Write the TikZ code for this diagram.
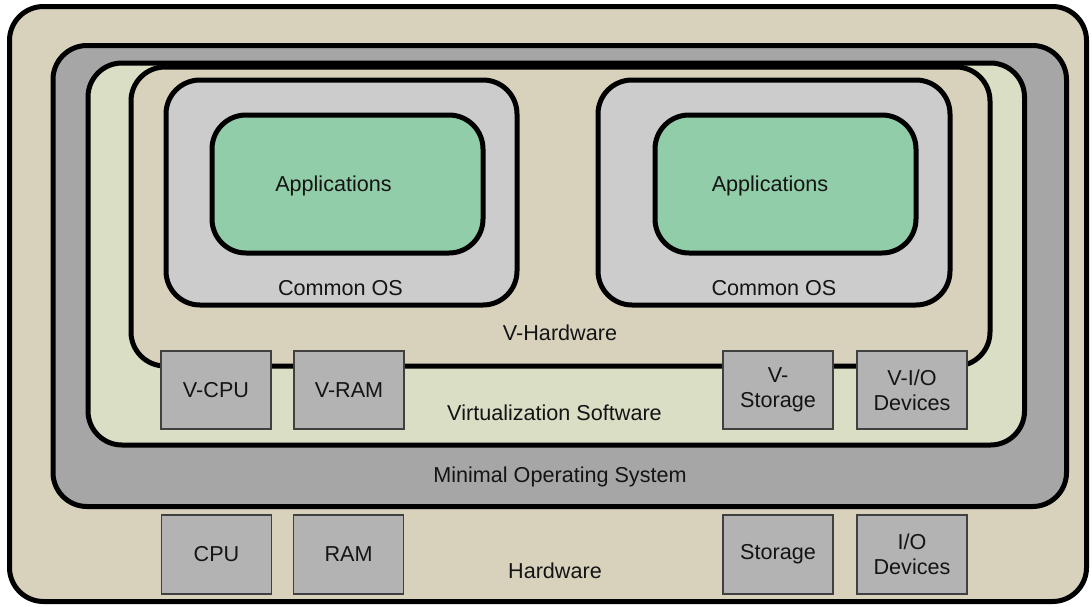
\documentclass[tikz,border=0pt]{standalone}
\usepackage{fontspec}
\setmainfont{Liberation Sans}
\definecolor{tan}{RGB}{216,210,189}
\definecolor{osgray}{RGB}{166,166,166}
\definecolor{virtgreen}{RGB}{217,222,197}
\definecolor{guestgray}{RGB}{204,204,204}
\definecolor{appgreen}{RGB}{146,205,169}
\definecolor{chipgray}{RGB}{179,179,179}
\definecolor{chipline}{RGB}{64,64,64}
\definecolor{ink}{RGB}{20,20,20}
\tikzset{
  layer/.style={draw=black, line width=5pt, rounded corners=34pt, inner sep=0pt, outer sep=0pt},
  chip/.style={draw=chipline, line width=1.3pt, fill=chipgray, minimum width=110pt,
    minimum height=78pt, inner sep=0pt, align=center, text=ink,
    font=\fontsize{21.6}{25}\selectfont},
  lbl/.style={anchor=base, inner sep=0pt, text=ink, font=\fontsize{21.6}{25}\selectfont}
}
\begin{document}
\begin{tikzpicture}[x=1pt, y=-1pt]
  \useasboundingbox (0,0) rectangle (1092,606);
  % nested layers, outermost first
  \node[layer, fill=tan, minimum width=1077pt, minimum height=595pt] (hw) at (548,304) {};
  \node[layer, fill=osgray, minimum width=1013.5pt, minimum height=461pt] (os) at (559.75,276) {};
  \node[layer, fill=virtgreen, minimum width=936.5pt, minimum height=382pt] (virt) at (556.25,254) {};
  \node[layer, fill=tan, minimum width=859pt, minimum height=299pt] (vhw) at (560.5,216.5) {};
  % guest systems
  \node[layer, fill=guestgray, minimum width=351pt, minimum height=225pt] (osL) at (341.5,192.5) {};
  \node[layer, fill=appgreen, minimum width=271pt, minimum height=138pt] (appL) at (347.5,184) {};
  \node[layer, fill=guestgray, minimum width=352pt, minimum height=225pt] (osR) at (774,192.5) {};
  \node[layer, fill=appgreen, minimum width=261pt, minimum height=138pt] (appR) at (785.5,184) {};
  % virtual devices
  \node[chip] (vcpu) at (216,390) {V-CPU};
  \node[chip] (vram) at (349,390) {V-RAM};
  \node[chip] (vsto) at (778,390) {V-\\Storage};
  \node[chip] (vio) at (912,390) {V-I/O\\Devices};
  % physical devices
  \node[chip, minimum height=79pt] (cpu) at (216.5,554.5) {CPU};
  \node[chip, minimum height=79pt] (ram) at (348.5,554.5) {RAM};
  \node[chip, minimum height=79pt] (sto) at (778,554.5) {Storage};
  \node[chip, minimum height=79pt] (io) at (912,554.5) {I/O\\Devices};
  % layer captions
  \node[lbl] (tAppL) at (333.5,191.7) {Applications};
  \node[lbl] (tAppR) at (770,191.7) {Applications};
  \node[lbl] (tOsL) at (340.5,295) {Common OS};
  \node[lbl] (tOsR) at (774,295) {Common OS};
  \node[lbl] (tVhw) at (560,340) {V-Hardware};
  \node[lbl] (tVirt) at (554.5,420) {Virtualization Software};
  \node[lbl] (tOs) at (560,482.3) {Minimal Operating System};
  \node[lbl] (tHw) at (555,578.3) {Hardware};
\end{tikzpicture}
\end{document}
